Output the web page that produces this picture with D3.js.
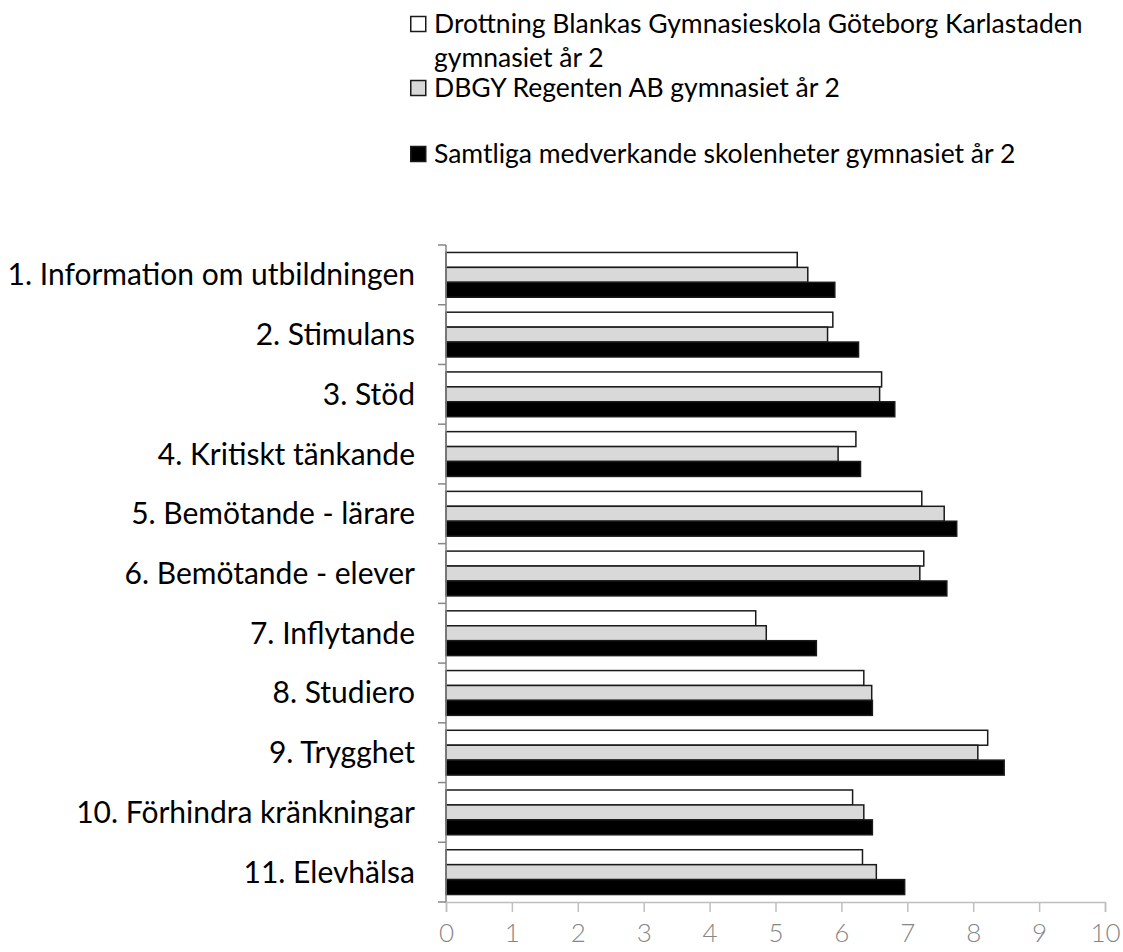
<!DOCTYPE html>
<html>
<head>
<meta charset="utf-8">
<script src="https://cdn.jsdelivr.net/npm/d3@7"></script>
<style>
  body { margin: 0; background: #fff; }
  svg { display: block; font-family: Lato, 'Open Sans', sans-serif; }
</style>
</head>
<body>
<div id="chart"></div>
<script>
let categories = [
  '1. Information om utbildningen',
  '2. Stimulans',
  '3. Stöd',
  '4. Kritiskt tänkande',
  '5. Bemötande - lärare',
  '6. Bemötande - elever',
  '7. Inflytande',
  '8. Studiero',
  '9. Trygghet',
  '10. Förhindra kränkningar',
  '11. Elevhälsa'
];
let seriesNames = [
  'Drottning Blankas Gymnasieskola Göteborg Karlastaden gymnasiet år 2',
  'DBGY Regenten AB gymnasiet år 2',
  'Samtliga medverkande skolenheter gymnasiet år 2'
];
let schoolValues = [5.33, 5.87, 6.61, 6.22, 7.22, 7.25, 4.70, 6.34, 8.22, 6.17, 6.32];
let regentenValues = [5.49, 5.79, 6.58, 5.95, 7.56, 7.19, 4.86, 6.46, 8.07, 6.34, 6.53];
let allValues = [5.90, 6.26, 6.81, 6.29, 7.75, 7.60, 5.62, 6.47, 8.47, 6.47, 6.96];
let xTicks = [0, 1, 2, 3, 4, 5, 6, 7, 8, 9, 10];
let fills = ['#ffffff', '#d9d9d9', '#000000'];

let width = 1123, height = 952;
let margin = { top: 245, right: 18, bottom: 50, left: 446 };

let svg = d3.select('#chart')
  .append('svg')
  .attr('width', width)
  .attr('height', height);

let x = d3.scaleLinear()
  .domain([0, 10])
  .range([margin.left, width - margin.right]);

let y = d3.scaleBand()
  .domain(categories)
  .range([margin.top, height - margin.bottom])
  .paddingInner(0.25)
  .paddingOuter(0.125);

let sub = d3.scaleBand()
  .domain(d3.range(3))
  .range([0, y.bandwidth()]);

let rows = categories.map((c, i) => ({
  name: c,
  vals: [schoolValues[i], regentenValues[i], allValues[i]]
}));

// bottom axis
let xAxis = svg.append('g')
  .attr('transform', `translate(0,${height - margin.bottom})`)
  .call(d3.axisBottom(x).tickValues(xTicks).tickSize(10).tickPadding(12).tickFormat(d3.format('d')));
xAxis.select('.domain').attr('stroke', '#bfbfbf').attr('stroke-width', 1.5);
xAxis.selectAll('.tick line').attr('stroke', '#bfbfbf').attr('stroke-width', 1.5);
xAxis.selectAll('text')
  .attr('fill', '#868686')
  .style('font-family', 'Lato, sans-serif')
  .style('font-size', '26px')
  .style('font-weight', 300);

// bars
let group = svg.selectAll('.bar-group')
  .data(rows)
  .enter()
  .append('g')
  .attr('class', 'bar-group')
  .attr('transform', d => `translate(0,${y(d.name)})`);

group.selectAll('rect')
  .data(d => d.vals.map((v, k) => ({ v, k })))
  .enter()
  .append('rect')
  .attr('x', x(0))
  .attr('y', d => sub(d.k))
  .attr('width', d => x(d.v) - x(0))
  .attr('height', sub.bandwidth())
  .attr('fill', d => fills[d.k])
  .attr('stroke', '#1a1a1a')
  .attr('stroke-width', 1.5);

// left axis with ticks at category boundaries
let step = y.step();
let boundaries = d3.range(categories.length + 1).map(i => margin.top + i * step);
svg.append('line')
  .attr('x1', x(0)).attr('x2', x(0))
  .attr('y1', margin.top).attr('y2', height - margin.bottom)
  .attr('stroke', '#868686').attr('stroke-width', 1.5);
svg.selectAll('.ytick')
  .data(boundaries)
  .enter()
  .append('line')
  .attr('class', 'ytick')
  .attr('x1', x(0) - 8).attr('x2', x(0))
  .attr('y1', d => d).attr('y2', d => d)
  .attr('stroke', '#868686').attr('stroke-width', 1.5);

svg.selectAll('.ylabel')
  .data(categories)
  .enter()
  .append('text')
  .attr('class', 'ylabel')
  .attr('x', x(0) - 31)
  .attr('y', d => y(d) + y.bandwidth() / 2)
  .attr('dy', '0.35em')
  .attr('text-anchor', 'end')
  .style('font-size', '30px')
  .attr('fill', '#000')
  .text(d => d);

// legend
let legendItems = [
  { lines: ['Drottning Blankas Gymnasieskola Göteborg Karlastaden', 'gymnasiet år 2'], y: 24 },
  { lines: ['DBGY Regenten AB gymnasiet år 2'], y: 88 },
  { lines: ['Samtliga medverkande skolenheter gymnasiet år 2'], y: 154 }
];
let legend = svg.selectAll('.legend')
  .data(legendItems)
  .enter()
  .append('g')
  .attr('class', 'legend')
  .attr('transform', d => `translate(410,${d.y})`);

legend.append('rect')
  .attr('x', 0.75)
  .attr('y', -7.5)
  .attr('width', 15)
  .attr('height', 15)
  .attr('fill', (d, i) => fills[i])
  .attr('stroke', '#1a1a1a')
  .attr('stroke-width', 1.5);

legend.append('text')
  .attr('y', 0)
  .style('font-size', '26.5px')
  .attr('fill', '#000')
  .selectAll('tspan')
  .data(d => d.lines)
  .enter()
  .append('tspan')
  .attr('x', 24)
  .attr('dy', (d, i) => i === 0 ? '0.35em' : '34px')
  .text(d => d);
</script>
</body>
</html>
